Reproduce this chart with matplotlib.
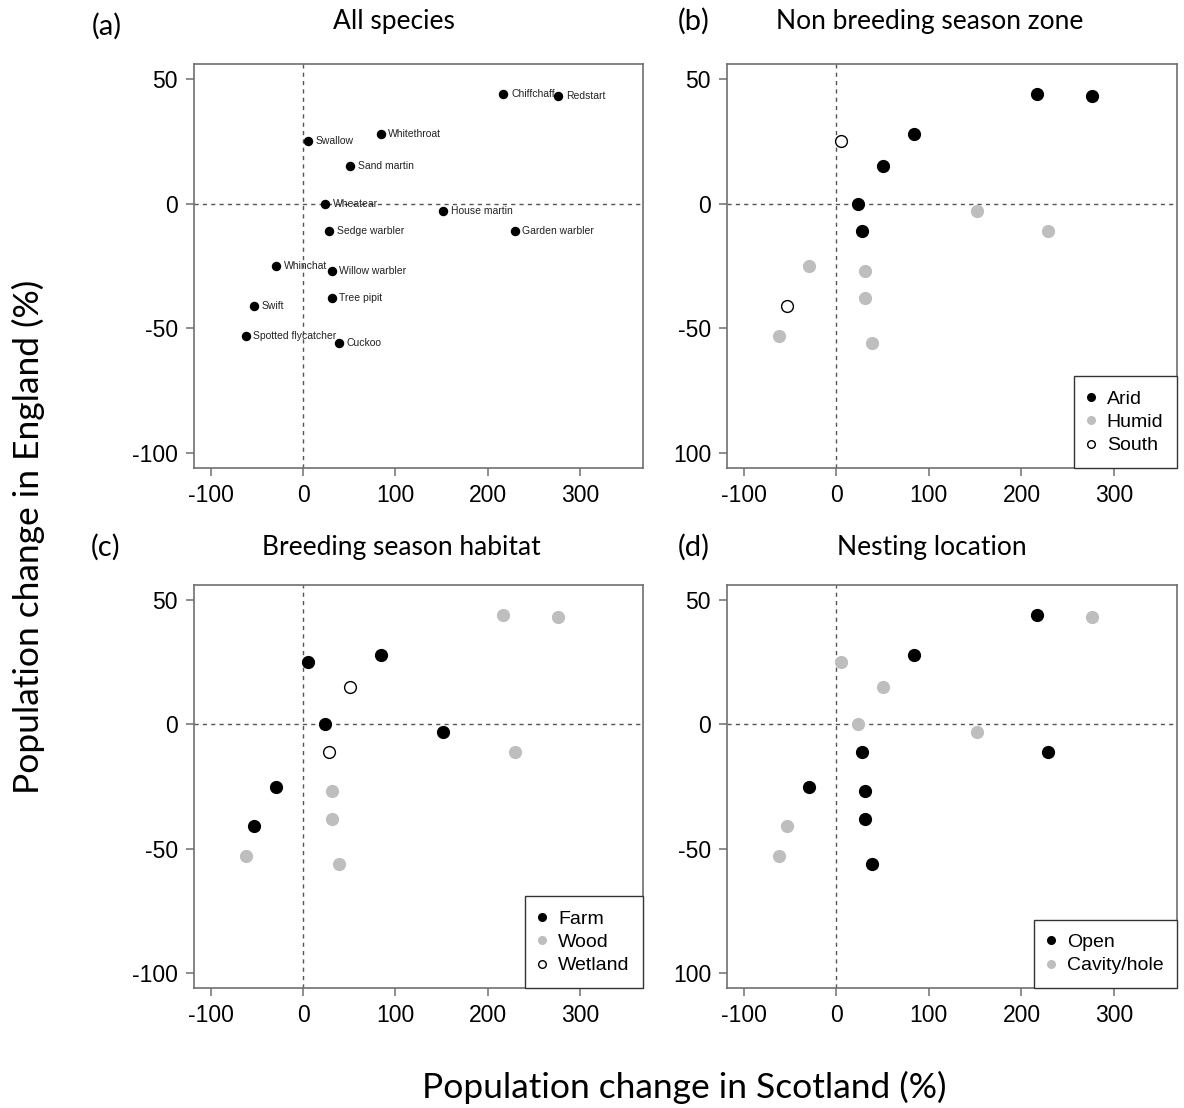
import matplotlib
matplotlib.use("Agg")
import matplotlib.pyplot as plt
from matplotlib.lines import Line2D

# values (% change)
species = ["Chiffchaff", "Redstart", "Whitethroat", "Swallow", "Sand martin", "Wheatear",
           "House martin", "Sedge warbler", "Garden warbler", "Whinchat", "Willow warbler",
           "Tree pipit", "Swift", "Spotted flycatcher", "Cuckoo"]
scotland = [217, 276, 84, 5, 51, 24, 152, 28, 229, -29, 31, 31, -53, -62, 39]
england = [44, 43, 28, 25, 15, 0, -3, -11, -11, -25, -27, -38, -41, -53, -56]
zone = ["Arid", "Arid", "Arid", "South", "Arid", "Arid", "Humid", "Arid", "Humid",
        "Humid", "Humid", "Humid", "South", "Humid", "Humid"]
habitat = ["Wood", "Wood", "Farm", "Farm", "Wetland", "Farm", "Farm", "Wetland", "Wood",
           "Farm", "Wood", "Wood", "Farm", "Wood", "Wood"]
nesting = ["Open", "Cavity/hole", "Open", "Cavity/hole", "Cavity/hole", "Cavity/hole",
           "Cavity/hole", "Open", "Open", "Open", "Open", "Open", "Cavity/hole",
           "Cavity/hole", "Open"]

xticks = [-100, 0, 100, 200, 300]
yticks = [-100, -50, 0, 50]
ylabels_ac = ["-100", "-50", "0", "50"]
ylabels_bd = ["100", "-50", "0", "50"]

BLACK, GREY, WHITE = "black", "#bebebe", "white"
STYLE = {"Arid": (BLACK, BLACK), "Humid": (GREY, GREY), "South": (WHITE, BLACK),
         "Farm": (BLACK, BLACK), "Wood": (GREY, GREY), "Wetland": (WHITE, BLACK),
         "Open": (BLACK, BLACK), "Cavity/hole": (GREY, GREY)}

W, H = 1184, 1108
fig = plt.figure(figsize=(W / 100, H / 100), dpi=100)
TICKFONT = "Liberation Sans"
TITLEFONT = "Lato"
BOXC = "#6f6f6f"


def px_axes(l, t, r, b):
    return fig.add_axes([l / W, 1 - b / H, (r - l) / W, (b - t) / H])


def setup(ax, ylabs):
    ax.set_xlim(-118, 368)
    ax.set_ylim(-106, 56)
    ax.set_xticks(xticks)
    ax.set_xticklabels([str(v) for v in xticks])
    ax.set_yticks(yticks)
    ax.set_yticklabels(ylabs)
    for s in ax.spines.values():
        s.set_color(BOXC); s.set_linewidth(1.2)
    ax.tick_params(length=5.5, width=1.1, color=BOXC, labelsize=16.5, pad=6)
    for lab in ax.get_xticklabels() + ax.get_yticklabels():
        lab.set_fontfamily(TICKFONT)
    ax.axhline(0, color="#555555", lw=1.0, ls=(0, (3, 3)), zorder=1)
    ax.axvline(0, color="#555555", lw=1.0, ls=(0, (3, 3)), zorder=1)


def grouped(ax, groups, order):
    for g in order:
        xs = [x for x, k in zip(scotland, groups) if k == g]
        ys = [y for y, k in zip(england, groups) if k == g]
        fc, ec = STYLE[g]
        ax.plot(xs, ys, "o", ms=8.5, mfc=fc, mec=ec, mew=1.0, ls="none", zorder=3)
    handles = [Line2D([], [], marker="o", ls="none", ms=5.5, mfc=STYLE[g][0],
                      mec=STYLE[g][1], mew=1.0) for g in order]
    leg = ax.legend(handles, order, loc="lower right", borderaxespad=0, fancybox=False,
                    framealpha=1, edgecolor="#333333", handlelength=0.4, handletextpad=0.6,
                    labelspacing=0.3, borderpad=0.7, prop={"family": TICKFONT, "size": 14})
    leg.get_frame().set_linewidth(1.0)


# (a) all species with names
axa = px_axes(194, 64, 643, 468)
setup(axa, ylabels_ac)
axa.plot(scotland, england, "o", color="black", ms=5.8, ls="none", zorder=3)
for name, x, y in zip(species, scotland, england):
    axa.annotate(name, (x, y), xytext=(5.5, 0), textcoords="offset points",
                 va="center", ha="left", fontsize=7.5, family=TICKFONT, color="#222222")

# (b) non breeding zone
axb = px_axes(727, 64, 1177, 468)
setup(axb, ylabels_bd)
grouped(axb, zone, ["Arid", "Humid", "South"])

# (c) breeding habitat
axc = px_axes(194, 585, 643, 988)
setup(axc, ylabels_ac)
grouped(axc, habitat, ["Farm", "Wood", "Wetland"])

# (d) nesting location
axd = px_axes(727, 585, 1177, 988)
setup(axd, ylabels_bd)
grouped(axd, nesting, ["Open", "Cavity/hole"])


def ftext(x, y, s, size, **kw):
    fig.text(x / W, 1 - y / H, s, fontsize=size, family=TITLEFONT, ha="center",
             va="center", **kw)


ftext(107, 26, "(a)", 21)
ftext(694, 21, "(b)", 21)
ftext(106, 547, "(c)", 21)
ftext(694, 547, "(d)", 21)
ftext(394, 21, "All species", 19)
ftext(930, 21, "Non breeding season zone", 19)
ftext(401, 547, "Breeding season habitat", 19)
ftext(932, 547, "Nesting location", 19)
ftext(684, 1087, "Population change in Scotland (%)", 25.5)
ftext(28, 537, "Population change in England (%)", 25.5, rotation=90)

fig.savefig("out.png", dpi=100)
